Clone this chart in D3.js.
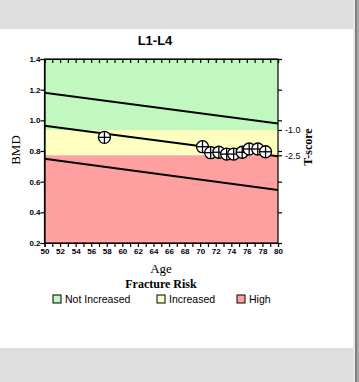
<!DOCTYPE html>
<html><head><meta charset="utf-8">
<script src="https://cdn.jsdelivr.net/npm/d3@7"></script>
<style>
html,body{margin:0;padding:0;background:#fff;}
svg{display:block;}
</style></head>
<body>
<svg id="c" width="359" height="382"></svg>
<script>
const title = "L1-L4";
const xTicks = [50,52,54,56,58,60,62,64,66,68,70,72,74,76,78,80];
const yTicks = [0.2,0.4,0.6,0.8,1.0,1.2,1.4];
const tTicks = [-1.0,-2.5];
const tLabels = ["-1.0","-2.5"];
const youngMean = 1.047, youngSD = 0.11;
const refAges = [50, 80];
const upperLine = [1.18, 0.98];
const meanLine = [0.965, 0.766];
const lowerLine = [0.75, 0.545];
const ages = [57.7, 70.3, 71.35, 72.4, 73.4, 74.3, 75.4, 76.3, 77.4, 78.4];
const bmd = [0.889, 0.828, 0.789, 0.792, 0.780, 0.780, 0.792, 0.813, 0.813, 0.795];
const zoneNames = ["Not Increased","Increased","High"];
const zoneColors = ["#c0f8c0","#ffffc0","#ffa0a0"];

const svg = d3.select("#c");
// page background
svg.append("rect").attr("x",0).attr("y",0).attr("width",359).attr("height",382).attr("fill","#dedede");
svg.append("rect").attr("x",0).attr("y",29).attr("width",353).attr("height",319).attr("fill","#fff");
svg.append("rect").attr("x",353).attr("y",0).attr("width",2).attr("height",382).attr("fill","#e8e8e8");
svg.append("rect").attr("x",355).attr("y",0).attr("width",2).attr("height",382).attr("fill","#808080");
svg.append("rect").attr("x",357).attr("y",0).attr("width",2).attr("height",382).attr("fill","#a8a8a8");

const L=44.5, R=278, T=59, B=243;
const x = d3.scaleLinear().domain([50,80]).range([L,R]);
const y = d3.scaleLinear().domain([0.2,1.4]).range([B,T]);
const tToBmd = t => youngMean + t*youngSD;

// zones
const z1 = tToBmd(-1.0), z2 = tToBmd(-2.5);
const zones = [[1.4,z1],[z1,z2],[z2,0.2]];
svg.selectAll("rect.zone").data(zones).join("rect").attr("class","zone")
  .attr("x",L).attr("width",R-L)
  .attr("y",d=>y(d[0])).attr("height",d=>y(d[1])-y(d[0]))
  .attr("fill",(d,i)=>zoneColors[i]);

// reference lines
const clip = svg.append("clipPath").attr("id","pc").append("rect").attr("x",L).attr("y",T).attr("width",R-L).attr("height",B-T);
const lineG = svg.append("g").attr("clip-path","url(#pc)");
[upperLine, meanLine, lowerLine].forEach(arr=>{
  lineG.append("line").attr("x1",x(refAges[0])).attr("y1",y(arr[0]))
    .attr("x2",x(refAges[1])).attr("y2",y(arr[1]))
    .attr("stroke","#000").attr("stroke-width",2);
});

// axes
const tickFont = "bold 8px 'Liberation Sans', Arial, sans-serif";
const minorX = d3.range(50,81,1);
const gB = svg.append("g").attr("transform",`translate(0,${B})`)
  .call(d3.axisBottom(x).tickValues(minorX).tickSize(4).tickFormat(d=>xTicks.includes(d)?d:""));
const gT = svg.append("g").attr("transform",`translate(0,${T})`)
  .call(d3.axisBottom(x).tickValues(minorX).tickSize(4).tickFormat(""));
const gL = svg.append("g").attr("transform",`translate(${L},0)`)
  .call(d3.axisLeft(y).tickValues(yTicks).tickSize(4).tickFormat(d3.format(".1f")));
const gR = svg.append("g").attr("transform",`translate(${R},0)`)
  .call(d3.axisRight(y).tickValues(yTicks).tickSize(4).tickFormat(""));
const gT2 = svg.append("g").attr("transform",`translate(${R},0)`)
  .call(d3.axisRight(y).tickValues(tTicks.map(tToBmd)).tickSize(4).tickFormat((d,i)=>tLabels[i]));
[gB,gT,gL,gR,gT2].forEach(g=>{
  g.selectAll("path.domain").attr("stroke","#000").attr("stroke-width",1.2);
  g.selectAll("line").attr("stroke","#000").attr("stroke-width",1.2);
  g.selectAll("text").attr("fill","#000").style("font",tickFont);
});
gB.selectAll("text").attr("dy","0.9em").attr("y",4);
gL.selectAll("text").attr("x",-4);
gT2.selectAll("text").attr("x",7).style("font","9px 'Liberation Sans', Arial, sans-serif");
gT2.select("path.domain").remove();
gR.select("path.domain").remove();
svg.append("rect").attr("x",L).attr("y",T).attr("width",R-L).attr("height",B-T)
  .attr("fill","none").attr("stroke","#000").attr("stroke-width",1.2);

// points
const pts = svg.append("g").selectAll("g").data(ages.map((a,i)=>[a,bmd[i]])).join("g")
  .attr("transform",d=>`translate(${x(d[0])},${y(d[1])})`);
pts.append("circle").attr("r",6).attr("fill","#fff").attr("stroke","#000").attr("stroke-width",1.3);
pts.append("line").attr("x1",-6).attr("x2",6).attr("stroke","#000").attr("stroke-width",1.3);
pts.append("line").attr("y1",-6).attr("y2",6).attr("stroke","#000").attr("stroke-width",1.3);

// titles
svg.append("text").attr("x",155).attr("y",45).attr("text-anchor","middle")
  .style("font","bold 13px 'Liberation Sans', Arial, sans-serif").text(title);
svg.append("text").attr("transform","translate(20,150) rotate(-90)").attr("text-anchor","middle")
  .style("font","13px 'Liberation Serif', 'Times New Roman', serif").text("BMD");
svg.append("text").attr("transform","translate(312,147) rotate(-90)").attr("text-anchor","middle")
  .style("font","bold 12px 'Liberation Serif', 'Times New Roman', serif").text("T-score");
svg.append("text").attr("x",161).attr("y",273).attr("text-anchor","middle")
  .style("font","13px 'Liberation Serif', 'Times New Roman', serif").text("Age");
svg.append("text").attr("x",161).attr("y",288).attr("text-anchor","middle")
  .style("font","bold 12px 'Liberation Serif', 'Times New Roman', serif").text("Fracture Risk");

// legend
const legX = [53, 157, 237];
const leg = svg.append("g").selectAll("g").data(zoneNames).join("g")
  .attr("transform",(d,i)=>`translate(${legX[i]},295)`);
leg.append("rect").attr("width",8).attr("height",8).attr("fill",(d,i)=>zoneColors[i])
  .attr("stroke","#000").attr("stroke-width",1);
leg.append("text").attr("x",12).attr("y",8).style("font","10.5px 'Liberation Sans', Arial, sans-serif").text(d=>d);
</script>
</body></html>
